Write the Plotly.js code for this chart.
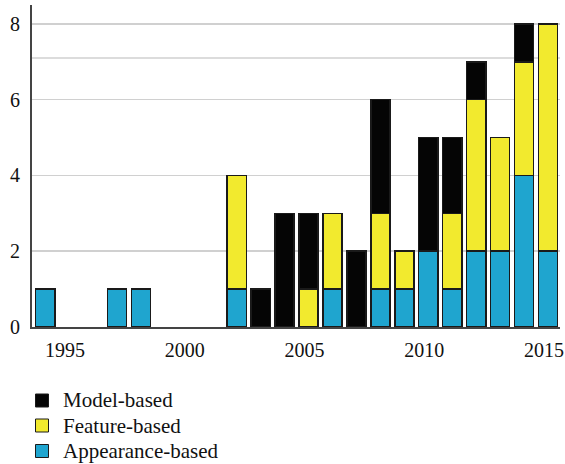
<!DOCTYPE html>
<html>
<head>
<meta charset="utf-8">
<script src="https://cdn.plot.ly/plotly-3.0.1.min.js"></script>
<style>html,body{margin:0;padding:0;background:#fff;}#chart{width:565px;height:464px;}</style>
</head>
<body>
<div id="chart"></div>
<script>
const years = [1994, 1997, 1998, 2002, 2003, 2004, 2005, 2006, 2007, 2008, 2009, 2010, 2011, 2012, 2013, 2014, 2015];
const appearanceBased = [1, 1, 1, 1, 0, 0, 0, 1, 0, 1, 1, 2, 1, 2, 2, 4, 2];
const featureBased    = [0, 0, 0, 3, 0, 0, 1, 2, 0, 2, 1, 0, 2, 4, 3, 3, 6];
const modelBased      = [0, 0, 0, 0, 1, 3, 2, 0, 2, 3, 0, 3, 2, 1, 0, 1, 0];
const seriesNames = ['Appearance-based', 'Feature-based', 'Model-based'];
const xTickVals = [1995, 2000, 2005, 2010, 2015];
const yTickVals = [0, 2, 4, 6, 8];

const fam = 'Liberation Serif, serif';
const font = {family: fam, size: 20, color: '#111'};
const colors = ['#1FA5CF', '#F2EA2E', '#050505'];
const series = [appearanceBased, featureBased, modelBased];

const W = 565, H = 464;
const M = {l: 32, r: 5, t: 5, b: 137};
const pw = W - M.l - M.r, ph = H - M.t - M.b;
const px2x = p => (p - M.l) / pw;
const py2y = p => (H - M.b - p) / ph;

const traces = series.map((vals, i) => ({
  type: 'bar',
  name: seriesNames[i],
  x: years,
  y: vals,
  marker: {color: colors[i], line: {color: '#1a1a1a', width: 1.5}},
  width: 0.8,
  hoverinfo: 'x+y+name'
}));

// Manual legend (top-to-bottom: reversed stacking order)
const legendOrder = [2, 1, 0];
const legendRowY = [400.5, 425.5, 451];
const shapes = [{
  type: 'line', xref: 'paper', x0: 0, x1: 1, yref: 'y', y0: 7.1, y1: 7.1,
  line: {color: '#d0d0d0', width: 1.5}, layer: 'below'
}];
const annotations = [];
legendOrder.forEach((si, r) => {
  const cy = legendRowY[r];
  shapes.push({
    type: 'rect', xref: 'paper', yref: 'paper',
    x0: px2x(35.5), x1: px2x(48.5), y0: py2y(cy + 6.5), y1: py2y(cy - 6.5),
    fillcolor: colors[si], line: {color: '#1a1a1a', width: 1}
  });
  annotations.push({
    xref: 'paper', yref: 'paper', x: px2x(61), y: py2y(cy),
    xanchor: 'left', yanchor: 'middle', showarrow: false,
    text: seriesNames[si], font: {family: fam, size: 21, color: '#111'}
  });
});

const layout = {
  width: W, height: H,
  margin: M,
  barmode: 'stack',
  paper_bgcolor: '#fff', plot_bgcolor: '#fff',
  font: font,
  showlegend: false,
  xaxis: {
    range: [1993.45, 2015.5],
    tickvals: xTickVals,
    ticks: '', showgrid: false, zeroline: false,
    showline: true, linecolor: '#444', linewidth: 2,
    tickfont: font, ticklabeloverflow: 'allow', ticklabelshift: -4,
    ticklabelstandoff: 4
  },
  yaxis: {
    range: [0, 8.5],
    tickvals: yTickVals,
    ticks: '', showgrid: true, gridcolor: '#d0d0d0', gridwidth: 1.5,
    zeroline: false,
    showline: true, linecolor: '#444', linewidth: 2,
    tickfont: font, ticklabelstandoff: 6
  },
  shapes: shapes,
  annotations: annotations
};

Plotly.newPlot('chart', traces, layout, {displayModeBar: false, staticPlot: true});
</script>
</body>
</html>
